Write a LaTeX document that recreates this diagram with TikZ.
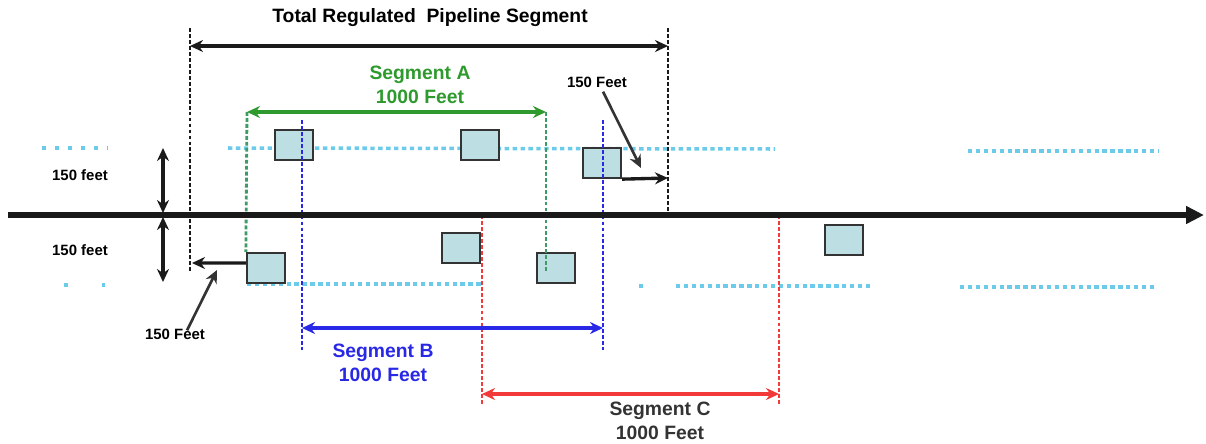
\documentclass[tikz,border=0pt]{standalone}
\usepackage{fontspec}
\setmainfont{Liberation Sans}
\usetikzlibrary{arrows.meta,positioning}
\definecolor{segA}{HTML}{2E9A2E}
\definecolor{segAline}{HTML}{3C9C64}
\definecolor{segB}{HTML}{2828E6}
\definecolor{segC}{HTML}{F23A3A}
\definecolor{offsetcyan}{HTML}{6CCBEA}
\definecolor{meterfill}{HTML}{BDDFE4}
\definecolor{ink}{HTML}{1A1A1A}
\definecolor{inkgray}{HTML}{333333}
\tikzset{
  pipe/.style={-{Triangle[length=3.6mm,width=3.4mm]},line width=3pt,draw=ink},
  dimarr/.style={{Stealth[length=2.6mm,width=2.4mm]}-{Stealth[length=2.6mm,width=2.4mm]},
                 line width=1.9pt,draw=ink},
  tagarr/.style={-{Stealth[length=2.6mm,width=2.4mm]},line width=1.9pt,draw=ink},
  notearr/.style={-{Stealth[length=2.6mm,width=2.4mm]},line width=1.5pt,draw=inkgray},
  greenarr/.style={dimarr,draw=segA},
  bluearr/.style={dimarr,draw=segB},
  redarr/.style={dimarr,draw=segC},
  blackdash/.style={draw=ink,line width=1.6pt,dash pattern=on 2.2pt off 1.2pt},
  greendash/.style={blackdash,draw=segAline},
  bluedash/.style={blackdash,draw=segB},
  reddash/.style={blackdash,draw=segC},
  offset/.style={draw=offsetcyan,line width=2pt,dash pattern=on 2.5pt off 2pt},
  meter/.style={draw=inkgray,fill=meterfill,line width=1.3pt,
                minimum width=0.76cm,minimum height=0.6cm,inner sep=0pt},
  lbl/.style={font=\bfseries\fontsize{11}{13.5}\selectfont,align=center,inner sep=0pt},
  smalllbl/.style={font=\bfseries\fontsize{8.5}{10}\selectfont,inner sep=0pt}
}
\begin{document}
\begin{tikzpicture}[x=0.02cm,y=-0.02cm]
  \useasboundingbox (0,0) rectangle (1206,443);

  % offset lines 150 feet either side
  \draw[offset,dash pattern=on 2pt off 5.4pt] (42,148) -- (108,148);
  \draw[offset] (228,148) -- (775,149);
  \draw[offset] (968,151) -- (1158,151);
  \draw[offset,dash pattern=on 2pt off 19.5pt] (64,285) -- (106,285);
  \draw[offset] (247,284) -- (483,284);
  \draw[offset,dash pattern=on 2pt off 40pt] (639,286) -- (676,286);
  \draw[offset] (676,286) -- (870,286);
  \draw[offset] (960,287) -- (1155,287);

  % meters
  \node[meter] (m1) at (294,145) {};
  \node[meter] (m2) at (480,145) {};
  \node[meter] (m3) at (602,163) {};
  \node[meter] (m4) at (266,268) {};
  \node[meter] (m5) at (461,248) {};
  \node[meter] (m6) at (556,268) {};
  \node[meter] (m7) at (844,240) {};

  % segment limits
  \coordinate (totL) at (190,46);
  \coordinate (totR) at (668,46);
  \coordinate (aL) at (247,112);
  \coordinate (aR) at (546,112);
  \coordinate (bL) at (302,328);
  \coordinate (bR) at (603,328);
  \coordinate (cL) at (482,394);
  \coordinate (cR) at (779,394);

  \draw[blackdash] (190,28) -- (190,272);
  \draw[blackdash] (668,28) -- (668,215);
  \draw[greendash] (aL) -- (m4.north west);
  \draw[greendash] (aR) -- (546,272);
  \draw[bluedash] (302,120) -- (302,350);
  \draw[bluedash] (603,120) -- (603,350);
  \draw[reddash] (482,215) -- (482,405);
  \draw[reddash] (779,215) -- (779,405);

  % pipeline
  \coordinate (pipeL) at (8,215);
  \coordinate (pipeR) at (1204,215);
  \draw[pipe] (pipeL) -- (pipeR);

  % dimensions
  \draw[dimarr] (totL) -- (totR);
  \draw[greenarr] (aL) -- (aR);
  \draw[bluearr] (bL) -- (bR);
  \draw[redarr] (cL) -- (cR);
  \draw[dimarr] (163,148) -- (163,213);
  \draw[dimarr] (163,217) -- (163,282);

  \node[lbl] (total) at (430,18) {Total Regulated\ \ Pipeline Segment};
  \node[lbl,text=segA] (labA) at (420,85) {Segment A\\1000 Feet};
  \node[lbl,text=segB] (labB) at (383,363) {Segment B\\1000 Feet};
  \node[lbl,text=inkgray] (labC) at (660,421) {Segment C\\1000 Feet};

  \node[smalllbl] (up) at (80,175) {150 feet};
  \node[smalllbl] (down) at (80,250) {150 feet};

  % 150 feet offsets at the ends
  \coordinate (endR) at (668,178);
  \coordinate (endL) at (192,263);
  \draw[tagarr] (m3.south east) -- (endR);
  \draw[tagarr] ([yshift=0.1cm]m4.west) -- (endL);
  \node[smalllbl] (noteR) at (597,82) {150 Feet};
  \node[smalllbl] (noteL) at (175,334) {150 Feet};
  \coordinate (tipR) at (641,168);
  \coordinate (tipL) at (217,270);
  \draw[notearr] (noteR.south) ++(6,4) -- (tipR);
  \draw[notearr] (noteL.north) ++(12,2) -- (tipL);
\end{tikzpicture}
\end{document}
